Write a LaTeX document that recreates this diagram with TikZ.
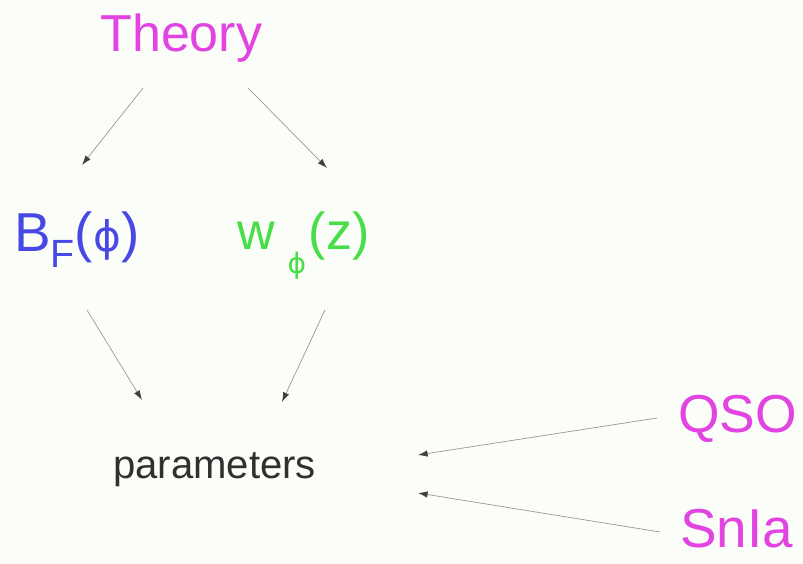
\documentclass[tikz,border=0pt]{standalone}
\usepackage{fontspec}
\setmainfont{Liberation Sans}
\newfontfamily\phifont{DejaVu Sans}
\usetikzlibrary{arrows.meta,backgrounds}
\definecolor{paper}{RGB}{251,253,248}
\definecolor{pinkish}{RGB}{226,68,226}
\definecolor{bluish}{RGB}{72,72,228}
\definecolor{greenish}{RGB}{72,222,72}
\definecolor{inkgray}{RGB}{48,48,48}

\begin{document}
\begin{tikzpicture}[
    x=0.025cm, y=-0.025cm,
    background rectangle/.style={fill=paper,draw=none},
    show background rectangle,
    lbl/.style={inner sep=0pt,anchor=base west},
    big/.style={font=\fontsize{#1}{#1}\selectfont},
    arrow/.style={-{Latex[length=2.4mm,width=1.6mm,color=black!75]},draw=black!40,line width=0.5pt}
]
\path[use as bounding box] (0,0) rectangle (803,564);

\node[lbl,big=37,text=pinkish] (theory) at (100,52) {Theory};
\node[lbl,big=39,text=bluish] (bf) at (14,252)
    {B\raisebox{-11pt}{\fontsize{28}{28}\selectfont F}({\phifont\fontsize{30}{30}\selectfont ϕ})};
\node[lbl,big=37,text=greenish] (wphi) at (237,250)
    {w\hspace{9pt}\raisebox{-17pt}{\phifont\fontsize{20}{20}\selectfont ϕ}\hspace{2pt}(z)};
\node[lbl,big=28.5,text=inkgray] (params) at (113,478) {parameters};
\node[lbl,big=38,text=pinkish] (qso) at (678,432) {QSO};
\node[lbl,big=39,text=pinkish] (snia) at (680,547) {SnIa};

% arrows leave a gap round each label, hence the shifted anchors
\draw[arrow] ([shift={(43,36)}]theory.base west) -- ([shift={(68,-87)}]bf.base west);
\draw[arrow] ([shift={(148,36)}]theory.base west) -- ([shift={(90,-82)}]wphi.base west);
\draw[arrow] ([shift={(73,58)}]bf.base west) -- ([shift={(29,-78)}]params.base west);
\draw[arrow] ([shift={(88,60)}]wphi.base west) -- ([shift={(169,-76)}]params.base west);
\draw[arrow] ([shift={(-21,-14)}]qso.base west) -- ([shift={(305,-23)}]params.base west);
\draw[arrow] ([shift={(-20,-15)}]snia.base west) -- ([shift={(305,15)}]params.base west);
\end{tikzpicture}
\end{document}
